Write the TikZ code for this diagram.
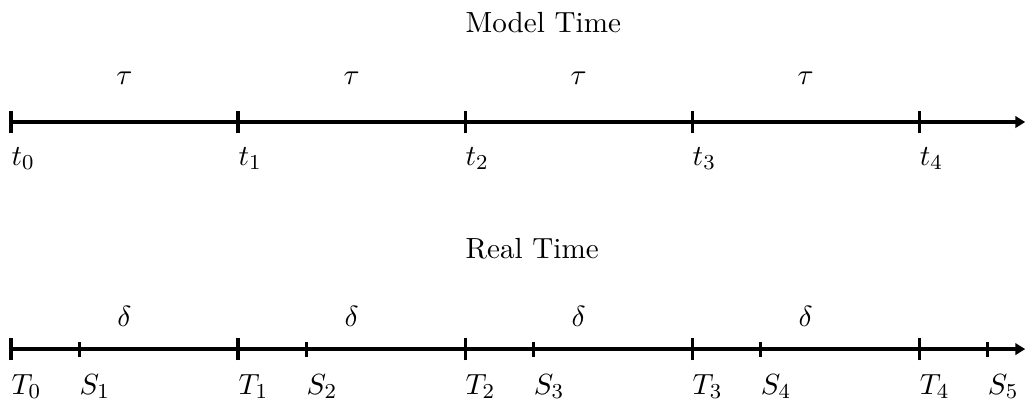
\documentclass[11pt,tikz,border=0pt]{standalone}
\usepackage{amsmath,amssymb}
\usetikzlibrary{arrows.meta, positioning}

\begin{document}
\begin{tikzpicture}[axisline/.style={-{Triangle[length=1.3mm, width=1.5mm]}, line width=1.2pt},
                    tickline/.style={line width=1.2pt},
                    ptlab/.style={anchor=north west, inner sep=0pt},
                    spanlab/.style={anchor=base, inner sep=0pt},
                    heading/.style={anchor=base west, inner sep=0pt}]
    \useasboundingbox (-0.145,-0.687) rectangle (13.41,4.612);
    % model time axis
    \coordinate (mend) at (13.4,3);
    \foreach \i in {0,...,4} {
        \coordinate (m\i) at (3*\i,3);
        \draw[tickline] ([yshift=-1.5mm]m\i) -- ([yshift=1.5mm]m\i);
        \node[ptlab] (t\i) at ([yshift=-3.3mm]m\i) {$t_{\i}$};
    }
    \draw[axisline] (m0) -- (mend);
    \foreach \i in {1,...,4} \node[spanlab] (tau\i) at (3*\i-1.5,3.49) {$\tau$};
    \node[heading] (model) at (6,4.18) {Model Time};
    % real time axis
    \coordinate (rend) at (13.4,0);
    \foreach \i in {0,...,4} {
        \coordinate (r\i) at (3*\i,0);
        \draw[tickline] ([yshift=-1.5mm]r\i) -- ([yshift=1.5mm]r\i);
        \node[ptlab] (T\i) at ([yshift=-3.3mm]r\i) {$T_{\i}$};
    }
    \foreach \i [evaluate=\i as \x using 3*\i-2.1] in {1,...,5} {
        \coordinate (s\i) at (\x,0);
        \draw[tickline] ([yshift=-1mm]s\i) -- ([yshift=1mm]s\i);
        \node[ptlab] (S\i) at ([yshift=-3.3mm]s\i) {$S_{\i}$};
    }
    \draw[axisline] (r0) -- (rend);
    \foreach \i in {1,...,4} \node[spanlab] (delta\i) at (3*\i-1.5,0.30) {$\delta$};
    \node[heading] (real) at (6,1.2) {Real Time};
\end{tikzpicture}
\end{document}
